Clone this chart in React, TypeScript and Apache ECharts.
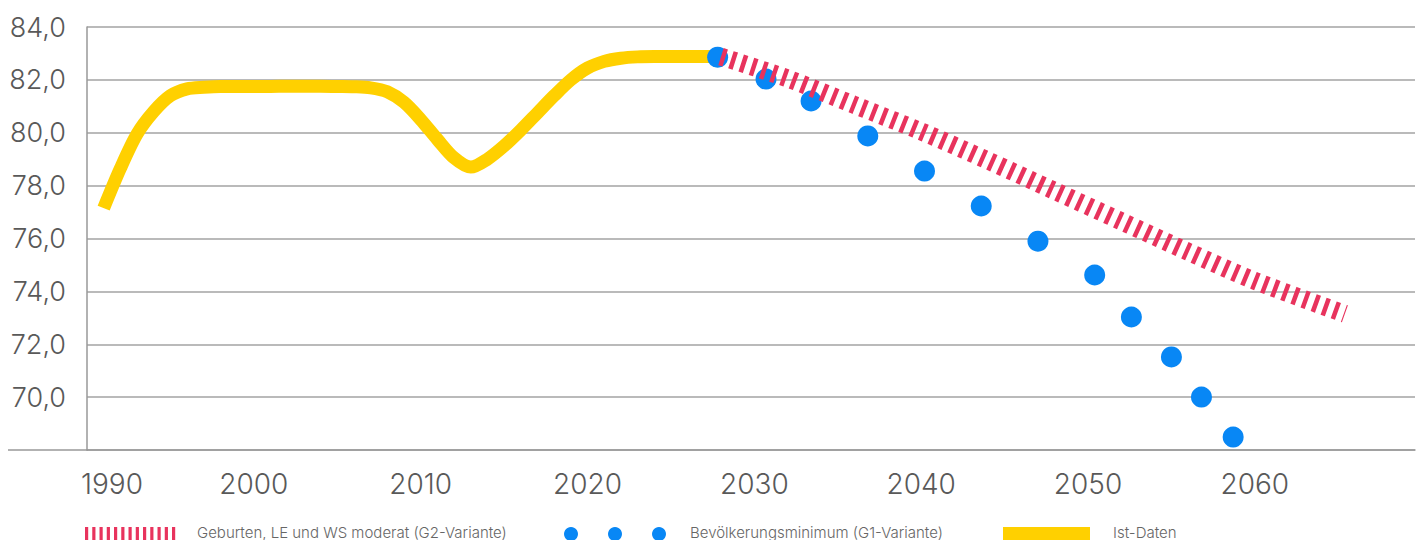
import React, { useEffect, useRef } from "react";
import * as echarts from "echarts";

// Ist-Daten (yellow)
const istYears = [
  1991, 1992, 1993, 1994, 1995, 1996, 1997, 1998, 1999, 2000, 2001, 2002, 2003, 2004,
  2005, 2006, 2007, 2008, 2009, 2010, 2011, 2012, 2013, 2014, 2015, 2016, 2017, 2018,
  2019, 2020, 2021, 2022, 2023, 2024, 2025, 2026, 2027, 2028,
];
const istValues = [
  77.15, 78.65, 79.95, 80.8, 81.4, 81.66, 81.72, 81.75, 81.75, 81.75, 81.75, 81.76, 81.76, 81.76,
  81.75, 81.74, 81.7, 81.55, 81.15, 80.5, 79.75, 79.05, 78.7, 79.0, 79.5, 80.1, 80.75, 81.4,
  82.0, 82.45, 82.7, 82.82, 82.87, 82.88, 82.88, 82.88, 82.88, 82.88,
];

// G2-Variante (red hatched)
const g2Years = [2028, 2032, 2036, 2040, 2044, 2048, 2052, 2056, 2060, 2065.4];
const g2Values = [82.88, 82.05, 81.05, 80.05, 78.95, 77.8, 76.65, 75.5, 74.4, 73.15];

// G1-Variante (blue dots)
const g1Years = [2027.8, 2030.7, 2033.4, 2036.8, 2040.2, 2043.6, 2047.0, 2050.4, 2052.6, 2055.0, 2056.8, 2058.7];
const g1Values = [82.86, 82.03, 81.2, 79.88, 78.55, 77.23, 75.9, 74.62, 73.03, 71.52, 70.0, 68.49];

const xTicks = [1990, 2000, 2010, 2020, 2030, 2040, 2050, 2060];
const yTicks = [70, 72, 74, 76, 78, 80, 82, 84];

const legendLabels = [
  "Geburten, LE und WS moderat (G2-Variante)",
  "Bevölkerungsminimum (G1-Variante)",
  "Ist-Daten",
];

const RED = "#E8335D";
const BLUE = "#0887F5";
const YELLOW = "#FFD000";
const GRID = "#a3a3a3";
const FONT = "Inter";

const zip = (xs: number[], ys: number[]) => xs.map((x, i) => [x, ys[i]]);

export default function App() {
  const ref = useRef<HTMLDivElement>(null);
  useEffect(() => {
    document.body.style.margin = "0";
    if (!ref.current) return;
    const chart = echarts.init(ref.current, undefined, { renderer: "svg" });

    const stripes: any[] = [];
    for (let i = 0; i < 13; i++) {
      stripes.push({
        type: "rect",
        x: i * 7.25,
        y: 0,
        shape: { x: 0, y: 0, width: 3.2, height: 14 },
        style: { fill: RED },
      });
    }
    const legendText = (x: number, text: string) => ({
      type: "text",
      x,
      y: 532,
      style: {
        text,
        fill: "#666",
        font: `300 15px ${FONT}`,
        verticalAlign: "middle",
        align: "left",
      },
    });

    chart.setOption({
      animation: false,
      backgroundColor: "#fff",
      grid: { left: 87, right: 9, top: 27, bottom: 90, containLabel: false },
      xAxis: {
        type: "value",
        min: 1990,
        max: 2069.6,
        interval: 10,
        axisLine: { show: true, lineStyle: { color: "#999", width: 1.5 } },
        axisTick: { show: false },
        splitLine: { show: false },
        axisLabel: {
          margin: 20,
          color: "#595959",
          fontFamily: FONT,
          fontWeight: 300,
          fontSize: 28,
          alignMinLabel: "center",
          formatter: (v: number) =>
            v === xTicks[0] ? `{first|${v}}` : xTicks.includes(v) ? String(v) : "",
          rich: {
            first: {
              padding: [0, 0, 0, 50],
              color: "#595959",
              fontFamily: FONT,
              fontWeight: 300,
              fontSize: 28,
            },
          },
        },
      },
      yAxis: {
        type: "value",
        min: 68,
        max: 84,
        interval: 2,
        axisLine: { show: true, lineStyle: { color: "#999", width: 1.5 } },
        axisTick: { show: false },
        splitLine: { show: true, lineStyle: { color: GRID, width: 1.5 } },
        axisLabel: {
          margin: 21,
          color: "#595959",
          fontFamily: FONT,
          fontWeight: 300,
          fontSize: 27,
          formatter: (v: number) => (yTicks.includes(v) ? v.toFixed(1).replace(".", ",") : ""),
        },
      },
      series: [
        {
          name: "Ist-Daten",
          type: "line",
          data: zip(istYears, istValues),
          showSymbol: false,
          smooth: 0.3,
          z: 2,
          lineStyle: { color: YELLOW, width: 13, cap: "butt", join: "round" },
        },
        {
          name: "G1",
          type: "scatter",
          data: zip(g1Years, g1Values),
          symbol: "circle",
          symbolSize: 21,
          z: 3,
          itemStyle: { color: BLUE, opacity: 1 },
        },
        {
          name: "G2",
          type: "line",
          data: zip(g2Years, g2Values),
          showSymbol: false,
          smooth: 0.3,
          z: 4,
          lineStyle: { color: RED, width: 18, type: [4.5, 6.2], cap: "butt" },
        },
      ],
      graphic: [
        { type: "line", shape: { x1: 8, y1: 450, x2: 88, y2: 450 }, style: { stroke: "#999", lineWidth: 1.5 } },
        { type: "group", x: 85, y: 527, children: stripes },
        legendText(197, legendLabels[0]),
        { type: "circle", shape: { cx: 571, cy: 534, r: 7 }, style: { fill: BLUE } },
        { type: "circle", shape: { cx: 615, cy: 534, r: 7 }, style: { fill: BLUE } },
        { type: "circle", shape: { cx: 659, cy: 534, r: 7 }, style: { fill: BLUE } },
        legendText(690, legendLabels[1]),
        { type: "rect", shape: { x: 1003, y: 527, width: 87, height: 14 }, style: { fill: YELLOW } },
        legendText(1113, legendLabels[2]),
      ],
    });
    return () => chart.dispose();
  }, []);
  return <div ref={ref} style={{ width: 1424, height: 540 }} />;
}
